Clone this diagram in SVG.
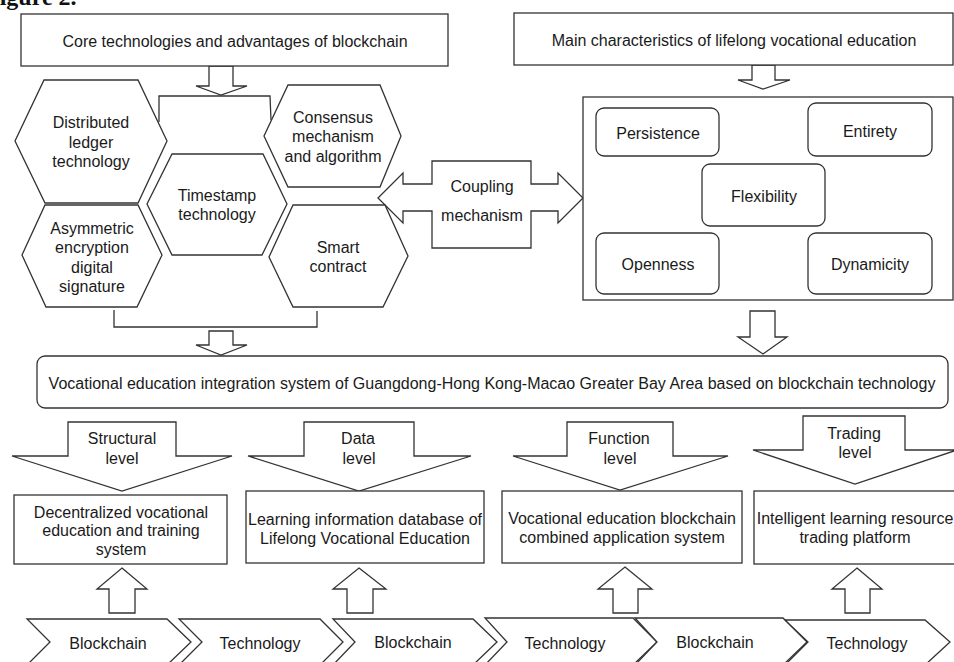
<svg xmlns="http://www.w3.org/2000/svg" width="954" height="662" viewBox="0 0 954 662">
<style>
.box{fill:#fff;stroke:#333;stroke-width:1.3}
.ar{fill:#fff;stroke:#333;stroke-width:1.3;stroke-linejoin:miter}
.ln{fill:none;stroke:#333;stroke-width:1.3}
.t{font-family:"Liberation Sans",Arial,sans-serif;font-size:16px;fill:#1a1a1a;text-anchor:middle}
.cap{font-family:"Liberation Serif","Times New Roman",serif;font-size:24px;font-weight:bold;fill:#111}
</style>
<rect x="0" y="0" width="954" height="662" fill="#fff"/>
<text class="cap" x="-15" y="5">Figure 2.</text>

<g id="connectors">
  <polygon class="ar" points="209,66 233,66 233,86 247,86 221,95 196,86 209,86"/>
  <polyline class="ln" points="159,122 159,96 270,96 271,120"/>
  <polyline class="ln" points="114,310 114,327 317,327 317,311"/>
  <polygon class="ar" points="209,331 233,331 233,345 247,345 221,355 196,345 209,345"/>
  <polygon class="ar" points="752,65 775,65 775,80 790,80 763,89 738,80 752,80"/>
  <polygon class="ar" points="750,311 775,311 775,337 787,337 763,354 738,337 750,337"/>
  <g id="coupling">
    <polygon class="ar" points="378,198 403,173 403,184 432,184 432,161 531,161 531,184 558,184 558,173 583,198 558,223 558,211 531,211 531,248 432,248 432,211 403,211 403,223"/>
    <text class="t" x="482" y="192">Coupling</text>
    <text class="t" x="482" y="221">mechanism</text>
  </g>
  <g id="structural-level">
    <polygon class="ar" points="68,422 176,422 176,456 232,456 122,491 12,456 68,456"/>
    <text class="t" x="122" y="443.5">Structural</text>
    <text class="t" x="122" y="463.5">level</text>
  </g>
  <g id="data-level">
    <polygon class="ar" points="304,422 414,422 414,456 471,456 359,491 248,456 304,456"/>
    <text class="t" x="358" y="443.5">Data</text>
    <text class="t" x="359" y="463.5">level</text>
  </g>
  <g id="function-level">
    <polygon class="ar" points="567,422 673,422 673,456 728,456 620,490 513,456 567,456"/>
    <text class="t" x="619" y="443.5">Function</text>
    <text class="t" x="620" y="463.5">level</text>
  </g>
  <g id="trading-level">
    <polygon class="ar" points="803,416 905,416 905,450 957,450 855,484 753,450 803,450"/>
    <text class="t" x="854" y="438.5">Trading</text>
    <text class="t" x="855" y="457.5">level</text>
  </g>
  <polygon class="ar" points="122,568 147,589 135,589 135,613 109,613 109,589 97,589"/>
  <polygon class="ar" points="359,568 386,589 373,589 373,613 347,613 347,589 333,589"/>
  <polygon class="ar" points="625,567 652,589 638,589 638,613 613,613 613,589 598,589"/>
  <polygon class="ar" points="857,568 882,589 870,589 870,613 845,613 845,589 832,589"/>
</g>

<g id="core-technologies">
  <rect class="box" x="21" y="14" width="427" height="52"/>
  <text class="t" x="235" y="47">Core technologies and advantages of blockchain</text>
</g>
<g id="main-characteristics">
  <rect class="box" x="514" y="13" width="439" height="52"/>
  <text class="t" x="734" y="46">Main characteristics of lifelong vocational education</text>
</g>

<g id="distributed-ledger">
  <polygon class="box" points="44,80 138,80 167,141 138,203 45,203 15,141"/>
  <text class="t" x="91" y="128">Distributed</text>
  <text class="t" x="91" y="147.5">ledger</text>
  <text class="t" x="91" y="167">technology</text>
</g>
<g id="consensus">
  <polygon class="box" points="288,85 380,85 401,136 380,187 288,187 264,136"/>
  <text class="t" x="333" y="122.5">Consensus</text>
  <text class="t" x="333" y="142">mechanism</text>
  <text class="t" x="333" y="161.5">and algorithm</text>
</g>
<g id="timestamp">
  <polygon class="box" points="172,154 263,154 287,204 262,255 172,255 147,204"/>
  <text class="t" x="217" y="201">Timestamp</text>
  <text class="t" x="217" y="220">technology</text>
</g>
<g id="asymmetric">
  <polygon class="box" points="45,205 138,205 162,255 137,307 46,307 22,255"/>
  <text class="t" x="92" y="233.5">Asymmetric</text>
  <text class="t" x="92" y="253">encryption</text>
  <text class="t" x="92" y="272.5">digital</text>
  <text class="t" x="92" y="292">signature</text>
</g>
<g id="smart-contract">
  <polygon class="box" points="293,205 385,205 408,256 383,307 293,307 269,257"/>
  <text class="t" x="338" y="252.5">Smart</text>
  <text class="t" x="338" y="271.5">contract</text>
</g>

<g id="characteristics-frame">
  <rect class="box" x="583" y="97" width="370" height="203"/>
</g>
<g id="persistence">
  <rect class="box" x="596" y="108" width="123" height="48" rx="8"/>
  <text class="t" x="658" y="138.5">Persistence</text>
</g>
<g id="entirety">
  <rect class="box" x="808" y="103" width="124" height="53" rx="8"/>
  <text class="t" x="870" y="136.5">Entirety</text>
</g>
<g id="flexibility">
  <rect class="box" x="702" y="164" width="123" height="62" rx="8"/>
  <text class="t" x="764" y="201.5">Flexibility</text>
</g>
<g id="openness">
  <rect class="box" x="596" y="233" width="123" height="61" rx="8"/>
  <text class="t" x="658" y="269.5">Openness</text>
</g>
<g id="dynamicity">
  <rect class="box" x="808" y="233" width="124" height="61" rx="8"/>
  <text class="t" x="870" y="269.5">Dynamicity</text>
</g>

<g id="integration-system">
  <rect class="box" x="37" y="356" width="911" height="52" rx="8"/>
  <text class="t" x="492" y="388.5">Vocational education integration system of Guangdong-Hong Kong-Macao Greater Bay Area based on blockchain technology</text>
</g>

<g id="decentralized">
  <rect class="box" x="14" y="495" width="213" height="69"/>
  <text class="t" x="121" y="517.5">Decentralized vocational</text>
  <text class="t" x="121" y="536">education and training</text>
  <text class="t" x="121" y="554.5">system</text>
</g>
<g id="learning-database">
  <rect class="box" x="246" y="491" width="238" height="72"/>
  <text class="t" x="365" y="524.5">Learning information database of</text>
  <text class="t" x="365" y="543.5">Lifelong Vocational Education</text>
</g>
<g id="application-system">
  <rect class="box" x="502" y="491" width="240" height="72"/>
  <text class="t" x="622" y="523.5">Vocational education blockchain</text>
  <text class="t" x="622" y="543">combined application system</text>
</g>
<g id="trading-platform">
  <rect class="box" x="754" y="491" width="203" height="73"/>
  <text class="t" x="855" y="523.5">Intelligent learning resource</text>
  <text class="t" x="855" y="543">trading platform</text>
</g>

<g id="chevron-1">
  <polygon class="box" points="27,619 167,619 191,642 167,665 27,665 50,642"/>
  <text class="t" x="108" y="648.5">Blockchain</text>
</g>
<g id="chevron-2">
  <polygon class="box" points="179,619 320,619 343,642 320,665 179,665 202,642"/>
  <text class="t" x="260" y="648.5">Technology</text>
</g>
<g id="chevron-3">
  <polygon class="box" points="333,619 473,619 497,642 473,665 333,665 355,642"/>
  <text class="t" x="413" y="648">Blockchain</text>
</g>
<g id="chevron-4">
  <polygon class="box" points="485,618 633,618 657,642 633,665 485,665 507,642"/>
  <text class="t" x="565" y="648.5">Technology</text>
</g>
<g id="chevron-5">
  <polygon class="box" points="635,618 783,618 807,642 783,665 635,665 657,642"/>
  <text class="t" x="715" y="648">Blockchain</text>
</g>
<g id="chevron-6">
  <polygon class="box" points="785,620 925,620 950,642 925,665 785,665 808,642"/>
  <text class="t" x="867" y="648.5">Technology</text>
</g>
</svg>
